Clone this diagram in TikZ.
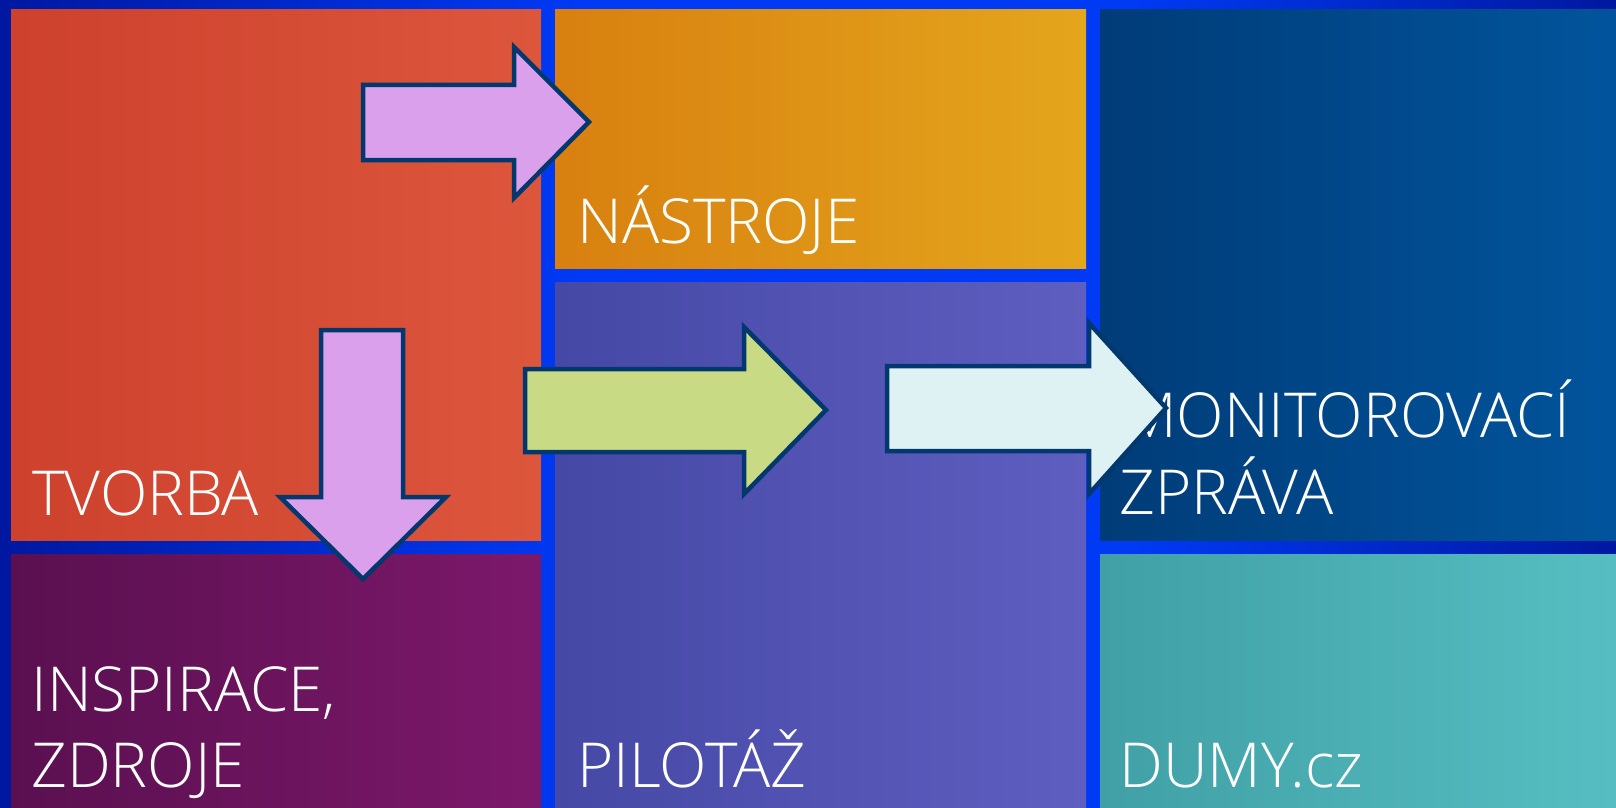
\documentclass[tikz,border=0pt]{standalone}
\usepackage{fontspec}
\setmainfont{Open Sans}[UprightFont=* Light]
\definecolor{bgdark}{RGB}{0,24,160}
\definecolor{bgbright}{RGB}{0,58,245}
\definecolor{redL}{RGB}{205,65,45}
\definecolor{redR}{RGB}{220,86,60}
\definecolor{orL}{RGB}{216,128,16}
\definecolor{orR}{RGB}{228,166,28}
\definecolor{piL}{RGB}{70,72,165}
\definecolor{piR}{RGB}{94,94,192}
\definecolor{dbL}{RGB}{0,60,120}
\definecolor{dbR}{RGB}{1,84,156}
\definecolor{dpL}{RGB}{90,16,80}
\definecolor{dpR}{RGB}{124,24,106}
\definecolor{teL}{RGB}{64,160,165}
\definecolor{teR}{RGB}{86,190,194}
\definecolor{arrowline}{RGB}{2,56,110}
\definecolor{pinkfill}{RGB}{219,160,236}
\definecolor{greenfill}{RGB}{200,218,132}
\definecolor{cyanfill}{RGB}{222,242,244}
\pgfdeclarehorizontalshading{bgshade}{100bp}{color(0bp)=(bgdark); color(25bp)=(bgdark); color(43bp)=(bgbright); color(60bp)=(bgbright); color(75bp)=(bgdark); color(100bp)=(bgdark)}
\begin{document}
\begin{tikzpicture}[x=0.5pt,y=-0.5pt,
  lbl/.style={anchor=base west, inner sep=0pt, text=white, font=\fontsize{31pt}{38pt}\selectfont},
  arrowshape/.style={draw=arrowline, line width=2.25pt, line join=miter}]
\useasboundingbox (0,0) rectangle (1616,808);
\shade[shading=bgshade] (0,0) rectangle (1616,808);
% tiles
\shade[left color=redL, right color=redR] (11,10) rectangle (541,540);
\shade[left color=orL, right color=orR] (555,10) rectangle (1086,268);
\shade[left color=piL, right color=piR] (555,282) rectangle (1086,808);
\shade[left color=dbL, right color=dbR] (1100,10) rectangle (1616,540);
\shade[left color=dpL, right color=dpR] (11,554) rectangle (541,808);
\shade[left color=teL, right color=teR] (1100,554) rectangle (1616,808);
% labels
\node[lbl] (tvorba) at (32,515) {TVORBA};
\node[lbl] (nastroje) at (577,243) {NÁSTROJE};
\node[lbl] (insp1) at (31,711) {INSPIRACE,};
\node[lbl] (insp2) at (31,787) {ZDROJE};
\node[lbl] (pilotaz) at (577,787) {PILOTÁŽ};
\node[lbl] (mon1) at (1123,437) {MONITOROVACÍ};
\node[lbl] (mon2) at (1119,514) {ZPRÁVA};
\node[lbl] (dumy) at (1119,787) {DUMY.cz};
% arrows
\draw[arrowshape, fill=pinkfill] (363,85) -- (514,85) -- (514,47) -- (589,122) -- (514,198) -- (514,160) -- (363,160) -- cycle;
\draw[arrowshape, fill=pinkfill] (321,330) -- (403,330) -- (403,497) -- (446,497) -- (363,579) -- (280,497) -- (321,497) -- cycle;
\draw[arrowshape, fill=greenfill] (525,369) -- (744,369) -- (744,327) -- (826,410) -- (744,494) -- (744,452) -- (525,452) -- cycle;
\draw[arrowshape, fill=cyanfill] (887,366) -- (1089,366) -- (1089,323) -- (1166,408) -- (1089,494) -- (1089,451) -- (887,451) -- cycle;
\end{tikzpicture}
\end{document}
